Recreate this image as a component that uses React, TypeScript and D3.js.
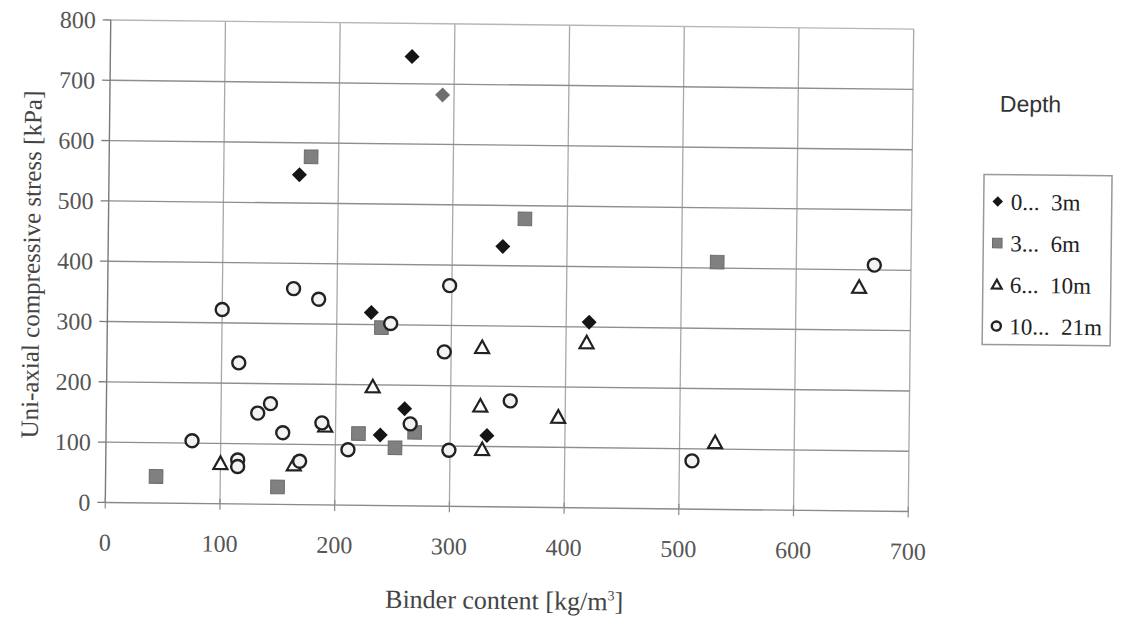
import * as d3 from "d3";

// binder content [kg/m3], uni-axial compressive stress [kPa]
const depth0to3: [number, number][] = [
  [263, 745], [290, 682], [166, 547], [344, 432], [420, 308],
  [230, 320], [260, 161], [239, 117], [332, 118],
];
const depth3to6: [number, number][] = [
  [176, 577], [363, 478], [531, 410], [239, 295], [269, 122],
  [220, 119], [252, 96], [44, 44], [150, 29],
];
const depth6to10: [number, number][] = [
  [655, 371], [418, 274], [327, 264], [232, 197], [326, 167], [394, 150],
  [191, 131], [531, 111], [328, 95], [100, 67], [164, 66],
];
const depth10to21: [number, number][] = [
  [668, 408], [162, 358], [184, 341], [298, 366], [100, 322], [247, 302],
  [294, 256], [115, 234], [352, 176], [143, 167], [132, 151], [188, 136],
  [265, 136], [154, 119], [75, 104], [211, 92], [299, 93], [115, 73],
  [115, 62], [169, 72], [511, 80],
];

const xTicks = [0, 100, 200, 300, 400, 500, 600, 700];
const yTicks = [0, 100, 200, 300, 400, 500, 600, 700, 800];
const legendLabels = ["0...  3m", "3...  6m", "6...  10m", "10...  21m"];

const W = 1131;
const H = 617;
const serif = "'Liberation Serif', 'Times New Roman', serif";

type Shape = "diamond" | "square" | "triangle" | "circle";

function Marker({ shape, x, y, s = 1, fill }: { shape: Shape; x: number; y: number; s?: number; fill?: string }) {
  if (shape === "diamond") {
    const r = 7.5 * s;
    return <path d={`M${x},${y - r}L${x + r},${y}L${x},${y + r}L${x - r},${y}Z`} fill={fill || "#151515"} />;
  }
  if (shape === "square") {
    const h = 6.8 * s;
    return <rect x={x - h} y={y - h} width={2 * h} height={2 * h} fill="#808080" stroke="#6a6a6a" strokeWidth={1} />;
  }
  if (shape === "triangle") {
    const h = 7 * s;
    return (
      <path
        d={`M${x},${y - h}L${x + h},${y + h * 0.8}L${x - h},${y + h * 0.8}Z`}
        fill="#fff"
        stroke="#222"
        strokeWidth={2.2}
      />
    );
  }
  return <circle cx={x} cy={y} r={6.5 * s} fill="#f3f3f3" stroke="#222" strokeWidth={2.4} />;
}

export default function App() {
  const x = d3.scaleLinear().domain([0, 700]).range([108, 911]);
  const y = d3.scaleLinear().domain([0, 800]).range([507, 24.5]);

  const series: { data: [number, number][]; shape: Shape }[] = [
    { data: depth0to3, shape: "diamond" },
    { data: depth3to6, shape: "square" },
    { data: depth6to10, shape: "triangle" },
    { data: depth10to21, shape: "circle" },
  ];

  const rowY = (i: number) => 196 + i * 41.5;

  return (
    <svg width={W} height={H} style={{ position: "absolute", left: 0, top: 0, background: "#fff" }}>
      {/* the scanned figure sits slightly skewed */}
      <g transform="rotate(0.65, 507, 265)">
        {xTicks.slice(1).map((t) => (
          <line key={"vx" + t} x1={x(t)} x2={x(t)} y1={y(800)} y2={y(0)} stroke="#a9a9a9" strokeWidth={1.3} />
        ))}
        {yTicks.slice(1).map((t) => (
          <line
            key={"hy" + t}
            x1={x(0)}
            x2={x(700)}
            y1={y(t)}
            y2={y(t)}
            stroke={t === 800 ? "#b5b5b5" : "#8e8e8e"}
            strokeWidth={1.4}
          />
        ))}
        <line x1={x(0)} x2={x(0)} y1={y(800)} y2={y(0)} stroke="#7a7a7a" strokeWidth={1.4} />
        <line x1={x(0)} x2={x(700)} y1={y(0)} y2={y(0)} stroke="#8a8a8a" strokeWidth={1.4} />
        {yTicks.map((t) => (
          <line key={"yt" + t} x1={x(0) - 8} x2={x(0)} y1={y(t)} y2={y(t)} stroke="#7a7a7a" strokeWidth={1.3} />
        ))}
        {xTicks.map((t) => (
          <line key={"xt" + t} x1={x(t)} x2={x(t)} y1={y(0) - 5} y2={y(0) + 6} stroke="#8a8a8a" strokeWidth={1.2} />
        ))}
        {yTicks.map((t) => (
          <text key={"yl" + t} x={93} y={y(t)} dy="0.35em" textAnchor="end" fontFamily={serif} fontSize={24} fill="#555">
            {t}
          </text>
        ))}
        {xTicks.map((t) => (
          <text key={"xl" + t} x={x(t)} y={555} textAnchor="middle" fontFamily={serif} fontSize={24} fill="#555">
            {t}
          </text>
        ))}
        <text x={508} y={609} textAnchor="middle" fontFamily={serif} fontSize={26} fill="#444">
          Binder content [kg/m
          <tspan dy={-10} fontSize={14}>3</tspan>
          <tspan dy={10}>]</tspan>
        </text>
        <text
          transform="translate(31, 270) rotate(-90)"
          dy="0.35em"
          textAnchor="middle"
          fontFamily={serif}
          fontSize={25}
          fill="#444"
        >
          Uni-axial compressive stress [kPa]
        </text>

        {series.map((s, si) =>
          s.data.map(([bx, st], i) => (
            <Marker
              key={si + "-" + i}
              shape={s.shape}
              x={x(bx)}
              y={y(st)}
              fill={si === 0 && i === 1 ? "#6e6e6e" : undefined}
            />
          ))
        )}

        <text x={998} y={98} dy="0.35em" fontFamily="'Liberation Sans', Arial, sans-serif" fontSize={23} fill="#333">
          Depth
        </text>
        <rect x={983} y={169} width={128} height={170} fill="#fff" stroke="#999" strokeWidth={1.5} />
        {legendLabels.map((lab, i) => (
          <g key={lab}>
            <Marker shape={series[i].shape} x={997} y={rowY(i)} s={0.7} />
            <text
              x={1010}
              y={rowY(i)}
              dy="0.35em"
              fontFamily={serif}
              fontSize={23}
              fill="#222"
              style={{ whiteSpace: "pre" }}
            >
              {lab}
            </text>
          </g>
        ))}
      </g>
    </svg>
  );
}
